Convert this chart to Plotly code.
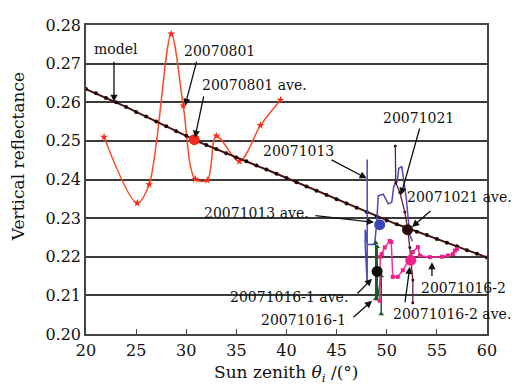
import plotly.graph_objects as go

# ---------------- data ----------------
model_x = [20, 21, 22, 23, 24, 25, 26, 27, 28, 29, 30, 31, 32, 33, 34, 35, 36, 37, 38, 39, 40,
           41, 42, 43, 44, 45, 46, 47, 48, 49, 50, 51, 52, 53, 54, 55, 56, 57, 58, 59, 60]
model_y = [0.2634, 0.2623, 0.2611, 0.2600, 0.2588, 0.2575, 0.2563, 0.2550, 0.2538, 0.2525,
           0.2513, 0.2500, 0.2489, 0.2479, 0.2468, 0.2457, 0.2447, 0.2436, 0.2426, 0.2415,
           0.2404, 0.2393, 0.2382, 0.2371, 0.2360, 0.2349, 0.2338, 0.2327, 0.2316, 0.2304,
           0.2294, 0.2284, 0.2275, 0.2265, 0.2256, 0.2246, 0.2236, 0.2227, 0.2217, 0.2208, 0.2198]

s0801_x = [21.8, 25.1, 26.3, 28.5, 29.7, 30.9, 32.1, 33.0, 35.3, 37.4, 39.4]
s0801_y = [0.2510, 0.2339, 0.2387, 0.2777, 0.2591, 0.2401, 0.2398, 0.2513, 0.2447, 0.2540, 0.2606]

s1013_x = [48.05, 48.05, 47.85, 47.85, 48.05, 48.1, 48.8, 49.0, 49.15, 49.65, 50.15, 50.5,
           50.7, 51.05, 51.2, 51.5, 51.65, 51.95, 52.3, 52.55]
s1013_y = [0.2452, 0.2130, 0.2232, 0.2270, 0.2232, 0.2232, 0.2232, 0.2290, 0.2358, 0.2362,
           0.2337, 0.2341, 0.2383, 0.2396, 0.2429, 0.2433, 0.2404, 0.2350, 0.2257, 0.2240]

s1021_x = [50.85, 50.9, 51.3, 51.8, 52.13, 52.3, 52.46, 52.6, 52.6]
s1021_y = [0.2487, 0.2392, 0.2367, 0.2316, 0.2266, 0.2224, 0.2190, 0.2140, 0.2081]

s1016a_x = [48.9, 48.9, 49.05, 49.05, 49.45, 49.45]
s1016a_y = [0.2236, 0.2092, 0.2226, 0.2090, 0.2150, 0.2052]

s1016b_x = [49.3, 49.35, 49.5, 49.8, 50.3, 50.45, 50.6, 51.1, 51.6, 52.1, 52.6, 53.1, 53.3,
            54.3, 55.5, 56.1, 56.6, 56.8, 57.0]
s1016b_y = [0.2086, 0.2200, 0.2207, 0.2224, 0.2241, 0.2238, 0.2148, 0.2148, 0.2165, 0.2186,
            0.2212, 0.2225, 0.2203, 0.2199, 0.2200, 0.2203, 0.2207, 0.2216, 0.2220]

ave_names = ["20070801 ave.", "20071013 ave.", "20071021 ave.", "20071016-1 ave.", "20071016-2 ave."]
ave_x = [30.8, 49.3, 52.07, 49.04, 52.4]
ave_y = [0.2503, 0.2283, 0.2270, 0.2162, 0.2191]
ave_colors = ["#f42a1a", "#3a46b4", "#2a0c0c", "#0a0a0a", "#f0208a"]

x_ticks = [20, 25, 30, 35, 40, 45, 50, 55, 60]
y_ticks = [0.20, 0.21, 0.22, 0.23, 0.24, 0.25, 0.26, 0.27, 0.28]
y_ticktext = ["0.20", "0.21", "0.22", "0.23", "0.24", "0.25", "0.26", "0.27", "0.28"]

# label text, text position, arrow tail, arrow head (data coordinates)
labels = ["model", "20070801", "20070801 ave.", "20071013", "20071021", "20071021 ave.",
          "20071013 ave.", "20071016-1 ave.", "20071016-1", "20071016-2 ave.", "20071016-2"]
label_x = [22.99, 33.27, 36.76, 41.15, 53.12, 57.3, 36.96, 40.25, 41.65, 56.5, 57.61]
label_y = [0.2737, 0.2733, 0.2644, 0.2473, 0.2559, 0.2355, 0.2312, 0.2096, 0.2035, 0.2053, 0.2118]
tail_x = [22.79, 31.07, 31.77, 44.34, 53.32, 54.51, 42.74, 46.93, 46.53, 51.8, 54.51]
tail_y = [0.2709, 0.2709, 0.2619, 0.2453, 0.2536, 0.2322, 0.2307, 0.2101, 0.2040, 0.2078, 0.2146]
head_x = [22.79, 29.88, 30.87, 48.0, 51.42, 52.52, 48.73, 48.53, 48.53, 52.3, 54.51]
head_y = [0.2601, 0.2591, 0.2508, 0.2403, 0.2360, 0.2277, 0.2289, 0.2143, 0.2086, 0.2174, 0.2186]

FONT = "DejaVu Serif"

fig = go.Figure()

fig.add_trace(go.Scatter(x=s0801_x, y=s0801_y, mode="lines+markers", line=dict(color="#ff4a26", width=1.5, shape="spline", smoothing=0.9),
                         marker=dict(symbol="star", size=6, color="#f42a1a"), showlegend=False))
fig.add_trace(go.Scatter(x=model_x, y=model_y, mode="lines+markers", line=dict(color="#4a1410", width=2),
                         marker=dict(symbol="circle", size=4, color="#1a0404"), showlegend=False))
fig.add_trace(go.Scatter(x=s1013_x, y=s1013_y, mode="lines", line=dict(color="#4a4ab8", width=1.5),
                         showlegend=False))
fig.add_trace(go.Scatter(x=s1021_x, y=s1021_y, mode="lines+markers", line=dict(color="#6a1e2e", width=1.3),
                         marker=dict(symbol="circle", size=3, color="#4a0e1e"), showlegend=False))
fig.add_trace(go.Scatter(x=s1016a_x, y=s1016a_y, mode="lines+markers", line=dict(color="#1e5a2a", width=1.5),
                         marker=dict(symbol="triangle-up", size=5, color="#1e5a2a"), showlegend=False))
fig.add_trace(go.Scatter(x=s1016b_x, y=s1016b_y, mode="lines+markers", line=dict(color="#ff2a96", width=1.5),
                         marker=dict(symbol="square", size=4, color="#f0208a"), showlegend=False))
fig.add_trace(go.Scatter(x=ave_x, y=ave_y, mode="markers", text=ave_names,
                         marker=dict(symbol="circle", size=11, color=ave_colors), showlegend=False))

annotations = []
for t, lx, ly in zip(labels, label_x, label_y):
    annotations.append(dict(x=lx, y=ly, xref="x", yref="y", text=t, showarrow=False,
                            xanchor="center", yanchor="middle",
                            font=dict(family=FONT, size=14, color="#111111")))
for tx, ty, hx, hy in zip(tail_x, tail_y, head_x, head_y):
    annotations.append(dict(x=hx, y=hy, ax=tx, ay=ty, xref="x", yref="y", axref="x", ayref="y",
                            text="", showarrow=True, arrowhead=2, arrowsize=1.1, arrowwidth=1.3,
                            arrowcolor="#111111"))
annotations.append(dict(x=-0.17, y=0.575, xref="paper", yref="paper", text="Vertical reflectance",
                        textangle=-90, showarrow=False, xanchor="center", yanchor="middle",
                        font=dict(family=FONT, size=17, color="#111111")))
annotations.append(dict(x=0.5, y=-0.128, xref="paper", yref="paper", xanchor="center", yanchor="middle",
                        text="Sun zenith <i>θ</i><sub><i>i</i></sub> /(°)", showarrow=False,
                        font=dict(family=FONT, size=17, color="#111111")))

# the page body adds an 8px offset; the figure is sized so the plot lands where the reference has it
fig.update_layout(
    width=511, height=378,
    margin=dict(l=78, r=32, t=8, b=52),
    paper_bgcolor="white", plot_bgcolor="white",
    annotations=annotations,
    xaxis=dict(range=[20, 60], tickvals=x_ticks, ticks="inside", ticklen=5, tickcolor="#444",
               showgrid=False, zeroline=False, showline=True, linecolor="#444", linewidth=1.5, mirror=True,
               tickfont=dict(family=FONT, size=16, color="#111111"), ticklabelstandoff=1),
    yaxis=dict(range=[0.20, 0.28], tickvals=y_ticks, ticktext=y_ticktext, ticks="",
               showgrid=True, gridcolor="#3a3a3a", gridwidth=1.5, zeroline=False,
               showline=True, linecolor="#444", linewidth=1.5, mirror=True,
               tickfont=dict(family=FONT, size=16, color="#111111"), ticklabelstandoff=0),
)

fig.write_html("out.html")
